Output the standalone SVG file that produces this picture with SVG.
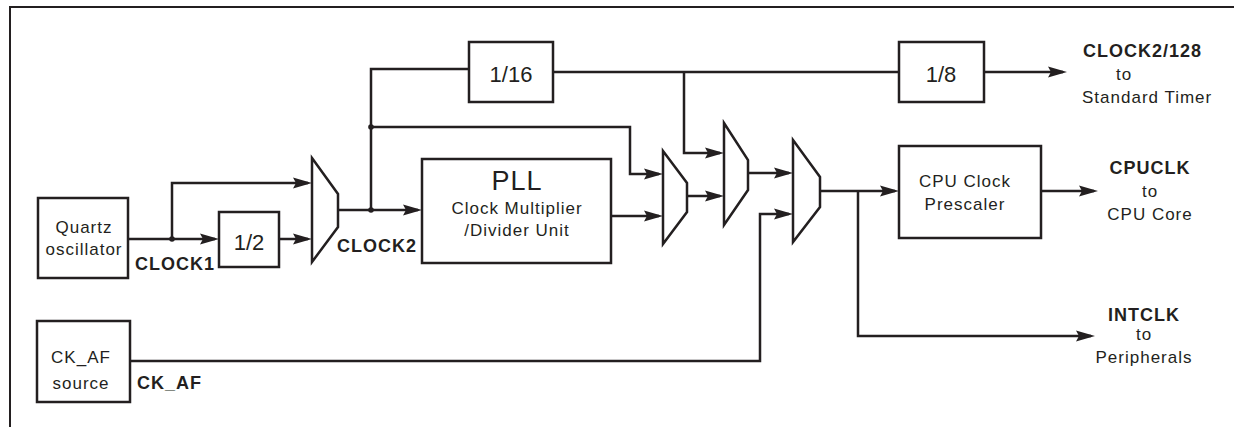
<svg xmlns="http://www.w3.org/2000/svg" width="1234" height="427" viewBox="0 0 1234 427">
<style>
.box{fill:#fff;stroke:#231f20;stroke-width:2.5}
.mux{fill:#fff;stroke:#231f20;stroke-width:2.5;stroke-linejoin:miter}
.w{fill:none;stroke:#231f20;stroke-width:2.5}
.wa{fill:none;stroke:#231f20;stroke-width:2.5;marker-end:url(#a)}
.t{font-family:"Liberation Sans",Arial,sans-serif;font-size:17px;letter-spacing:1px;fill:#231f20}
.b{font-family:"Liberation Sans",Arial,sans-serif;font-size:18px;font-weight:bold;letter-spacing:1px;fill:#231f20}
.n{font-family:"Liberation Sans",Arial,sans-serif;font-size:22px;fill:#231f20}
.c{text-anchor:middle}
</style>
<defs>
<marker id="a" viewBox="-20 -6 24 12" refX="-4" refY="0" markerWidth="24" markerHeight="12" markerUnits="userSpaceOnUse" orient="auto">
<path d="M0,0 L-19,-5.5 L-16,0 L-19,5.5 Z" fill="#231f20"/>
</marker>
</defs>
<rect width="1234" height="427" fill="#fff"/>
<path d="M10,427 V7 H1234" fill="none" stroke="#231f20" stroke-width="2"/>

<g id="connectors">
<path class="wa" d="M128,239 H215"/>
<path class="wa" d="M172,239 V183 H308"/>
<path class="wa" d="M279,239 H308"/>
<path class="wa" d="M338,210 H418"/>
<path class="w" d="M371,210 V69 H469"/>
<path class="wa" d="M371,127 H630 V174 H659"/>
<path class="wa" d="M611,216 H659"/>
<path class="w" d="M553,72 H899"/>
<path class="wa" d="M684,72 V153 H720"/>
<path class="wa" d="M984,72 H1063"/>
<path class="wa" d="M687,196 H720"/>
<path class="wa" d="M748,173 H789"/>
<path class="wa" d="M130,361 H760 V214 H789"/>
<path class="wa" d="M820,191 H895"/>
<path class="wa" d="M858,191 V336 H1091"/>
<path class="wa" d="M1041,191 H1094"/>
<circle cx="172" cy="239" r="2.8" fill="#231f20"/>
<circle cx="371" cy="210" r="2.8" fill="#231f20"/>
<circle cx="371" cy="127" r="2.8" fill="#231f20"/>
</g>

<g id="quartz">
<rect class="box" x="38" y="198" width="90" height="80"/>
<text class="t c" x="84" y="233">Quartz</text>
<text class="t c" x="84" y="255">oscillator</text>
</g>
<g id="clock1-label"><text class="b" x="135" y="270">CLOCK1</text></g>

<g id="div2">
<rect class="box" x="219" y="212" width="60" height="55"/>
<text class="n c" x="249" y="250">1/2</text>
</g>

<g id="mux1">
<path class="mux" d="M312,158 L338,194 L338,227 L312,262 Z"/>
</g>
<g id="clock2-label"><text class="b" x="337" y="252">CLOCK2</text></g>

<g id="div16">
<rect class="box" x="469" y="42" width="84" height="60"/>
<text class="n c" x="511" y="82">1/16</text>
</g>

<g id="pll">
<rect class="box" x="422" y="159" width="189" height="104"/>
<text class="c" x="517" y="190" style="font-family:'Liberation Sans',Arial,sans-serif;font-size:27px;letter-spacing:1px;fill:#231f20">PLL</text>
<text class="t c" x="517" y="214">Clock Multiplier</text>
<text class="t c" x="517" y="236">/Divider Unit</text>
</g>

<g id="mux2"><path class="mux" d="M663,151 L687,183 L687,212 L663,244 Z"/></g>
<g id="mux3"><path class="mux" d="M724,123 L748,160 L748,190 L724,225 Z"/></g>
<g id="mux4"><path class="mux" d="M793,140 L820,177 L820,207 L793,242 Z"/></g>

<g id="div8">
<rect class="box" x="899" y="42" width="85" height="60"/>
<text class="n c" x="941" y="82">1/8</text>
</g>

<g id="cpu-prescaler">
<rect class="box" x="899" y="146" width="142" height="92"/>
<text class="t c" x="965" y="187">CPU Clock</text>
<text class="t c" x="965" y="210">Prescaler</text>
</g>

<g id="ckaf">
<rect class="box" x="37" y="321" width="93" height="81"/>
<text class="t c" x="81" y="363">CK_AF</text>
<text class="t c" x="81" y="389">source</text>
</g>
<g id="ckaf-label"><text class="b" x="137" y="389">CK_AF</text></g>

<g id="out-timer">
<text class="b" x="1083" y="57">CLOCK2/128</text>
<text class="t c" x="1124" y="80">to</text>
<text class="t" x="1082" y="103">Standard Timer</text>
</g>
<g id="out-cpu">
<text class="b c" x="1150" y="174">CPUCLK</text>
<text class="t c" x="1150" y="197">to</text>
<text class="t c" x="1150" y="220">CPU Core</text>
</g>
<g id="out-periph">
<text class="b c" x="1144" y="321">INTCLK</text>
<text class="t c" x="1144" y="340">to</text>
<text class="t c" x="1144" y="363">Peripherals</text>
</g>
</svg>
